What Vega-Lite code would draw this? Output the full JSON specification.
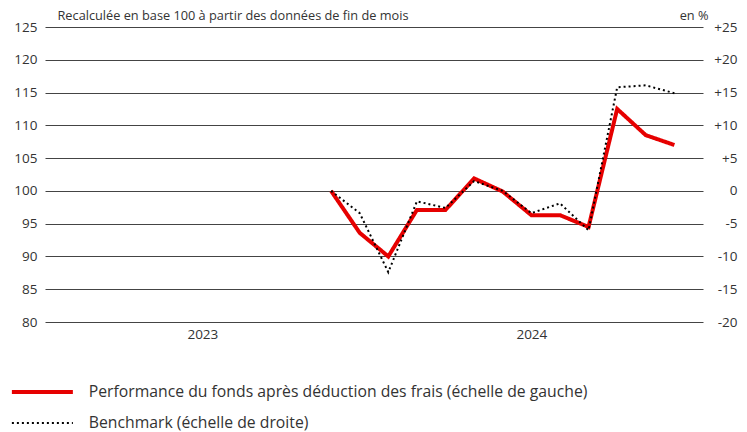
{
  "$schema": "https://vega.github.io/schema/vega-lite/v6.json",
  "width": 658,
  "height": 295,
  "autosize": "none",
  "padding": {"left": 45, "top": 27, "right": 44, "bottom": 110},
  "background": "white",
  "config": {
    "font": "Open Sans",
    "view": {"stroke": null},
    "axis": {"labelColor": "#333333", "titleColor": "#333333", "labelFont": "Open Sans", "titleFont": "Open Sans", "titleFontWeight": "normal"}
  },
  "data": {
    "values": [
      {"t": 0, "mois": "2023-10", "serie": "Performance du fonds après déduction des frais (échelle de gauche)", "valeur": 100.0},
      {"t": 1, "mois": "2023-11", "serie": "Performance du fonds après déduction des frais (échelle de gauche)", "valeur": 93.6},
      {"t": 2, "mois": "2023-12", "serie": "Performance du fonds après déduction des frais (échelle de gauche)", "valeur": 90.0},
      {"t": 3, "mois": "2024-01", "serie": "Performance du fonds après déduction des frais (échelle de gauche)", "valeur": 97.1},
      {"t": 4, "mois": "2024-02", "serie": "Performance du fonds après déduction des frais (échelle de gauche)", "valeur": 97.1},
      {"t": 5, "mois": "2024-03", "serie": "Performance du fonds après déduction des frais (échelle de gauche)", "valeur": 101.9},
      {"t": 6, "mois": "2024-04", "serie": "Performance du fonds après déduction des frais (échelle de gauche)", "valeur": 99.9},
      {"t": 7, "mois": "2024-05", "serie": "Performance du fonds après déduction des frais (échelle de gauche)", "valeur": 96.3},
      {"t": 8, "mois": "2024-06", "serie": "Performance du fonds après déduction des frais (échelle de gauche)", "valeur": 96.3},
      {"t": 9, "mois": "2024-07", "serie": "Performance du fonds après déduction des frais (échelle de gauche)", "valeur": 94.5},
      {"t": 10, "mois": "2024-08", "serie": "Performance du fonds après déduction des frais (échelle de gauche)", "valeur": 112.5},
      {"t": 11, "mois": "2024-09", "serie": "Performance du fonds après déduction des frais (échelle de gauche)", "valeur": 108.5},
      {"t": 12, "mois": "2024-10", "serie": "Performance du fonds après déduction des frais (échelle de gauche)", "valeur": 107.0},
      {"t": 0, "mois": "2023-10", "serie": "Benchmark (échelle de droite)", "valeur": 0.0},
      {"t": 1, "mois": "2023-11", "serie": "Benchmark (échelle de droite)", "valeur": -3.4},
      {"t": 2, "mois": "2023-12", "serie": "Benchmark (échelle de droite)", "valeur": -12.4},
      {"t": 3, "mois": "2024-01", "serie": "Benchmark (échelle de droite)", "valeur": -1.6},
      {"t": 4, "mois": "2024-02", "serie": "Benchmark (échelle de droite)", "valeur": -2.6},
      {"t": 5, "mois": "2024-03", "serie": "Benchmark (échelle de droite)", "valeur": 1.5},
      {"t": 6, "mois": "2024-04", "serie": "Benchmark (échelle de droite)", "valeur": 0.0},
      {"t": 7, "mois": "2024-05", "serie": "Benchmark (échelle de droite)", "valeur": -3.4},
      {"t": 8, "mois": "2024-06", "serie": "Benchmark (échelle de droite)", "valeur": -1.9},
      {"t": 9, "mois": "2024-07", "serie": "Benchmark (échelle de droite)", "valeur": -6.0},
      {"t": 10, "mois": "2024-08", "serie": "Benchmark (échelle de droite)", "valeur": 15.8},
      {"t": 11, "mois": "2024-09", "serie": "Benchmark (échelle de droite)", "valeur": 16.1},
      {"t": 12, "mois": "2024-10", "serie": "Benchmark (échelle de droite)", "valeur": 14.9}
    ]
  },
  "encoding": {
    "x": {
      "field": "t",
      "type": "quantitative",
      "scale": {"domain": [-10, 13], "nice": false, "zero": false},
      "axis": {
        "values": [-4.5, 7],
        "labelExpr": "datum.value < 0 ? '2023' : '2024'",
        "grid": false,
        "ticks": false,
        "domain": false,
        "title": null,
        "labelPadding": 5,
        "labelFontSize": 13.5
      }
    },
    "color": {
      "field": "serie",
      "type": "nominal",
      "scale": {
        "domain": ["Performance du fonds après déduction des frais (échelle de gauche)", "Benchmark (échelle de droite)"],
        "range": ["#e60000", "#000000"]
      },
      "legend": {
        "title": null,
        "orient": "none",
        "legendX": -41,
        "legendY": 357,
        "direction": "vertical",
        "symbolType": "M0,0H12.2",
        "symbolSize": 100,
        "labelOffset": 69,
        "labelFontSize": 15.75,
        "labelColor": "#333333",
        "labelLimit": 700,
        "rowPadding": 14,
        "padding": 0
      }
    },
    "strokeDash": {
      "field": "serie",
      "type": "nominal",
      "scale": {
        "domain": ["Performance du fonds après déduction des frais (échelle de gauche)", "Benchmark (échelle de droite)"],
        "range": [[1, 0], [2, 3]]
      },
      "legend": null
    },
    "strokeWidth": {
      "field": "serie",
      "type": "nominal",
      "scale": {
        "domain": ["Performance du fonds après déduction des frais (échelle de gauche)", "Benchmark (échelle de droite)"],
        "range": [4, 2]
      },
      "legend": null
    }
  },
  "layer": [
    {
      "transform": [{"filter": "datum.serie == 'Performance du fonds après déduction des frais (échelle de gauche)'"}],
      "mark": {"type": "line"},
      "encoding": {
        "y": {
          "field": "valeur",
          "type": "quantitative",
          "scale": {"domain": [80, 125], "nice": false, "zero": false},
          "axis": {
            "orient": "left",
            "values": [80, 85, 90, 95, 100, 105, 110, 115, 120, 125],
            "grid": true,
            "gridColor": "#444444",
            "gridWidth": 1,
            "gridOpacity": 1,
            "ticks": false,
            "domain": false,
            "labelPadding": 8,
            "labelFontSize": 13.5,
            "title": "Recalculée en base 100 à partir des données de fin de mois",
            "titleAngle": 0,
            "titleAlign": "left",
            "titleBaseline": "alphabetic",
            "titleX": 12,
            "titleY": -8,
            "titleFontSize": 12.75
          }
        }
      }
    },
    {
      "transform": [{"filter": "datum.serie == 'Benchmark (échelle de droite)'"}],
      "mark": {"type": "line"},
      "encoding": {
        "y": {
          "field": "valeur",
          "type": "quantitative",
          "scale": {"domain": [-20, 25], "nice": false, "zero": false},
          "axis": {
            "orient": "right",
            "values": [-20, -15, -10, -5, 0, 5, 10, 15, 20, 25],
            "labelExpr": "datum.value > 0 ? '+' + datum.value : '' + datum.value",
            "grid": false,
            "ticks": false,
            "domain": false,
            "labelAlign": "right",
            "labelPadding": 34,
            "labelFontSize": 13.5,
            "title": "en %",
            "titleAngle": 0,
            "titleAlign": "right",
            "titleBaseline": "alphabetic",
            "titleX": 5,
            "titleY": -8,
            "titleFontSize": 12.75
          }
        }
      }
    }
  ],
  "resolve": {"scale": {"y": "independent"}}
}
